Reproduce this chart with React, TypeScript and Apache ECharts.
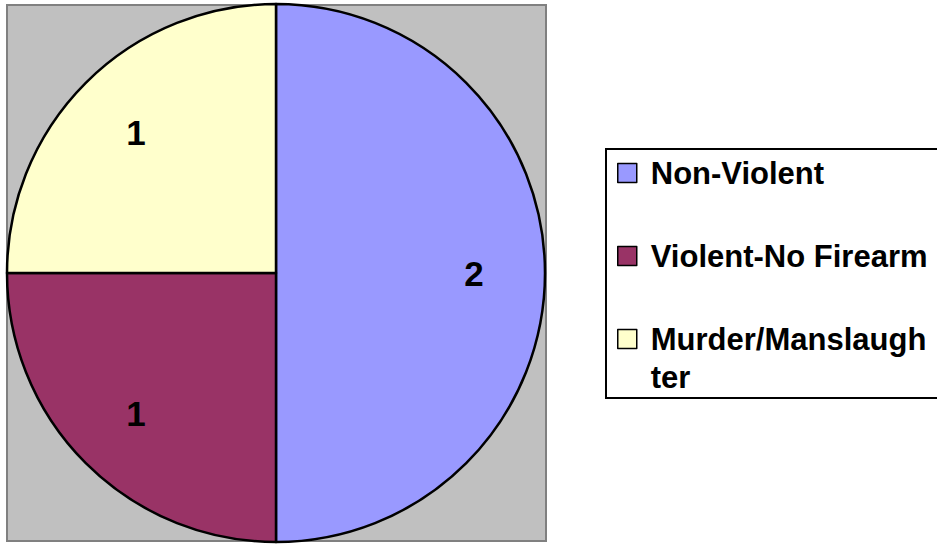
import React, { useEffect, useRef } from "react";
import * as echarts from "echarts";

const categories = ["Non-Violent", "Violent-No Firearm", "Murder/Manslaughter"];
const values = [2, 1, 1];
const colors = ["#9999ff", "#993366", "#ffffcc"];
const legendLabels = ["\nNon-Violent\n", "\nViolent-No Firearm\n", "\nMurder/Manslaugh\nter"];

export default function App() {
  const ref = useRef<HTMLDivElement>(null);
  useEffect(() => {
    if (!ref.current) return;
    const chart = echarts.init(ref.current, null, { renderer: "svg" });
    const data = categories.map((name, i) => ({
      name,
      value: values[i],
      itemStyle: { color: colors[i] },
    }));
    chart.setOption({
      animation: false,
      backgroundColor: "#ffffff",
      graphic: [
        {
          type: "rect",
          z: -10,
          shape: { x: 7, y: 5, width: 539, height: 536 },
          style: { fill: "#c0c0c0", stroke: "#808080", lineWidth: 2 },
        },
        {
          type: "rect",
          z: -10,
          shape: { x: 606, y: 149, width: 360, height: 249 },
          style: { fill: "#ffffff", stroke: "#000000", lineWidth: 2 },
        },
      ],
      legend: {
        orient: "vertical",
        left: 617,
        top: 116,
        padding: 0,
        itemGap: -31,
        itemWidth: 19,
        itemHeight: 19,
        icon: "rect",
        itemStyle: { borderColor: "#000", borderWidth: 1.5 },
        selectedMode: false,
        formatter: (name: string) => legendLabels[categories.indexOf(name)],
        textStyle: {
          fontFamily: "Liberation Sans, Arial, sans-serif",
          fontWeight: "bold",
          fontSize: 31,
          lineHeight: 38,
          padding: [0, 0, 0, 9],
          color: "#000",
        },
        data: categories,
      },
      series: [
        {
          type: "pie",
          center: [276, 273],
          radius: [0, 269],
          startAngle: 90,
          clockwise: true,
          silent: true,
          itemStyle: { borderColor: "#000", borderWidth: 2.5 },
          label: { show: false },
          labelLine: { show: false },
          data,
        },
        {
          type: "pie",
          center: [276, 273],
          radius: [121, 269],
          startAngle: 90,
          clockwise: true,
          silent: true,
          legendHoverLink: false,
          itemStyle: { color: "transparent", borderWidth: 0 },
          label: {
            show: true,
            position: "inside",
            formatter: "{c}",
            fontFamily: "Liberation Sans, Arial, sans-serif",
            fontWeight: "bold",
            fontSize: 35,
            color: "#000",
          },
          labelLine: { show: false },
          data: categories.map((name, i) => ({ name, value: values[i] })),
        },
      ],
    });
    return () => chart.dispose();
  }, []);
  return (
    <div
      ref={ref}
      style={{ position: "fixed", left: 0, top: 0, width: 937, height: 544 }}
    />
  );
}
